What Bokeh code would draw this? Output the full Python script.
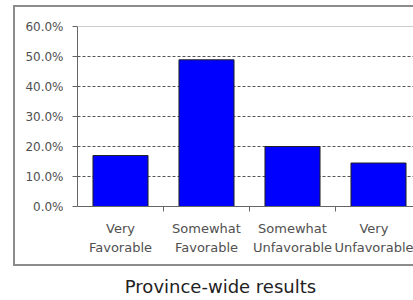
from bokeh.plotting import figure
from bokeh.models import (FixedTicker, PrintfTickFormatter, Span, Range1d,
                          InlineStyleSheet, LinearAxis)
from bokeh.embed import file_html
from bokeh.resources import INLINE

categories = ["Very\nFavorable", "Somewhat\nFavorable", "Somewhat\nUnfavorable", "Very\nUnfavorable"]
values = [17.0, 48.9, 20.0, 14.5]
y_ticks = [0, 10, 20, 30, 40, 50, 60]
title_text = "Province-wide results"

xs = [i + 0.5 for i in range(len(categories))]
bounds = [i for i in range(1, len(categories))]

FONT = "DejaVu Sans"

p = figure(width=413, height=300, output_backend="svg", toolbar_location=None,
           x_range=Range1d(0, 336 / 86), y_range=Range1d(0, 60),
           min_border_left=77, min_border_right=0, min_border_top=26,
           min_border_bottom=94, outline_line_color=None,
           background_fill_color="white", border_fill_color="white")

p.vbar(x=xs, top=values, width=0.64, fill_color="#0000FF", line_color="#222222",
       line_width=1)

# y axis
p.yaxis.ticker = FixedTicker(ticks=y_ticks, minor_ticks=[])
p.yaxis.formatter = PrintfTickFormatter(format="%.1f%%")
p.yaxis.axis_line_color = "#666666"
p.yaxis.major_tick_line_color = "#666666"
p.yaxis.major_tick_out = 5
p.yaxis.major_tick_in = 0
p.yaxis.major_label_standoff = 9
p.yaxis.major_label_text_font = FONT
p.yaxis.major_label_text_font_size = "12px"
p.yaxis.major_label_text_color = "#505050"

# x axis
p.xaxis.ticker = FixedTicker(ticks=xs, minor_ticks=bounds)
p.xaxis.major_label_overrides = {x: c for x, c in zip(xs, categories)}
p.xaxis.axis_line_color = "#666666"
p.xaxis.major_tick_line_color = None
p.xaxis.major_tick_out = 0
p.xaxis.major_tick_in = 0
p.xaxis.minor_tick_line_color = "#666666"
p.xaxis.minor_tick_out = 5
p.xaxis.minor_tick_in = 0
p.xaxis.major_label_standoff = 9
p.xaxis.major_label_text_font = FONT
p.xaxis.major_label_text_font_size = "13px"
p.xaxis.major_label_text_color = "#505050"
p.xaxis.major_label_text_line_height = 1.27

# chart caption below the category labels
title_x = (220 - 77) / 86
cap_axis = LinearAxis(ticker=FixedTicker(ticks=[title_x], minor_ticks=[]),
                      major_label_overrides={title_x: title_text},
                      axis_line_color=None, major_tick_line_color=None,
                      minor_tick_line_color=None, major_tick_out=0, major_tick_in=0,
                      minor_tick_out=0, minor_tick_in=0, major_label_standoff=18,
                      major_label_text_font=FONT, major_label_text_font_size="18px",
                      major_label_text_color="#222222")
p.add_layout(cap_axis, "below")

# grid
p.xgrid.grid_line_color = None
p.ygrid.ticker = FixedTicker(ticks=y_ticks)
p.ygrid.grid_line_color = "#555555"
p.ygrid.grid_line_dash = "3 2"
p.ygrid.grid_line_width = 1

p.add_layout(Span(location=60, dimension="width", line_color="#999999", line_width=1))

# outer chart border (left, top, bottom)
p.stylesheets = [InlineStyleSheet(css="""
:host { position: relative; }
:host::after {
  content: "";
  position: absolute;
  left: 13px; top: 5px; width: 400px; height: 261px;
  box-sizing: border-box;
  border-left: 2px solid #8c8c8c;
  border-top: 2px solid #8c8c8c;
  border-bottom: 2px solid #8c8c8c;
  pointer-events: none;
}
""")]

open("out.html", "w").write(file_html(p, INLINE))
